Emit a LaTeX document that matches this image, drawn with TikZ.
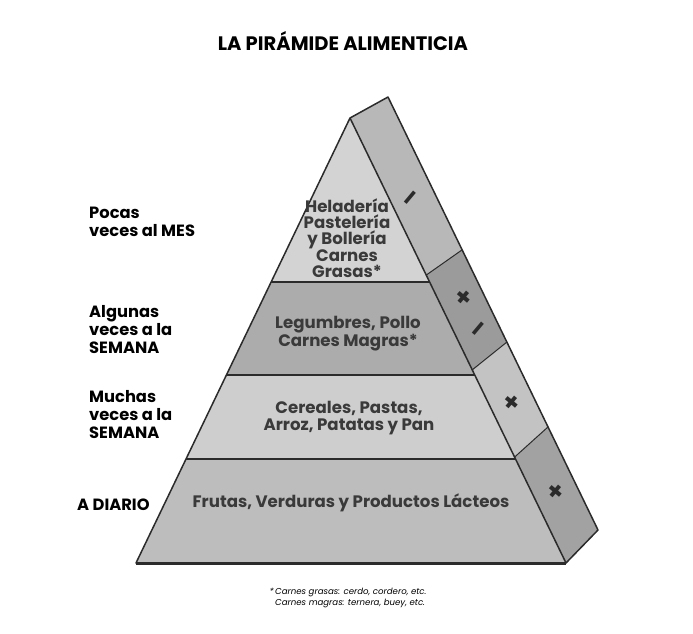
\documentclass[tikz,border=0pt]{standalone}
\usepackage{fontspec}
\setmainfont{Poppins}[BoldFont={Poppins Bold},ItalicFont={Poppins Italic}]
\usetikzlibrary{positioning,calc}
\definecolor{pyrline}{HTML}{2B2B2B}
\definecolor{foodtext}{HTML}{3A3A3A}
\definecolor{bandtop}{HTML}{D3D3D3}
\definecolor{bandtwo}{HTML}{ACACAC}
\definecolor{bandthree}{HTML}{CECECE}
\definecolor{bandbase}{HTML}{BDBDBD}
\definecolor{sidetop}{HTML}{B8B8B8}
\definecolor{sidetwo}{HTML}{9B9B9B}
\definecolor{sidethree}{HTML}{C3C3C3}
\definecolor{sidebase}{HTML}{A2A2A2}
\tikzset{
    outline/.style={draw=pyrline,line width=1.5pt,line join=round},
    freq/.style={font=\bfseries\fontsize{16.3}{18}\selectfont,align=left,anchor=west,inner sep=0pt},
    food/.style={font=\bfseries\fontsize{16.6}{16.3}\selectfont,align=center,text=foodtext,inner sep=0pt},
    sidesign/.style={font=\bfseries\fontsize{26}{26}\selectfont,text=pyrline,rotate=50,inner sep=0pt},
}

\begin{document}
\begin{tikzpicture}[x=1pt,y=-1pt]
    \useasboundingbox (0,0) rectangle (693,634);
    % corners of the pyramid
    \coordinate (apex) at (350,118);
    \coordinate (bl) at (136,563);
    \coordinate (br) at (566,563);
    \coordinate (bapex) at (388,97);
    \coordinate (bbr) at (598,530);
    % band lines on the front
    \foreach \t [count=\i] in {0.3685,0.5775,0.766}{
        \coordinate (l\i) at ($(apex)!\t!(bl)$);
        \coordinate (r\i) at ($(apex)!\t!(br)$);
    }
    % divisions on the side
    \foreach \t [count=\i] in {0.353,0.566,0.762}{
        \coordinate (sf\i) at ($(apex)!\t!(br)$);
        \coordinate (sb\i) at ($(bapex)!\t!(bbr)$);
    }
    \fill[bandtop] (apex) -- (l1) -- (r1) -- cycle;
    \fill[bandtwo] (l1) -- (l2) -- (r2) -- (r1) -- cycle;
    \fill[bandthree] (l2) -- (l3) -- (r3) -- (r2) -- cycle;
    \fill[bandbase] (l3) -- (bl) -- (br) -- (r3) -- cycle;
    \fill[sidetop] (apex) -- (sf1) -- (sb1) -- (bapex) -- cycle;
    \fill[sidetwo] (sf1) -- (sf2) -- (sb2) -- (sb1) -- cycle;
    \fill[sidethree] (sf2) -- (sf3) -- (sb3) -- (sb2) -- cycle;
    \fill[sidebase] (sf3) -- (br) -- (bbr) -- (sb3) -- cycle;
    \draw[outline] (apex) -- (bl) -- (br) -- cycle;
    \draw[outline] (apex) -- (bapex) -- (bbr) -- (br);
    \draw[outline] (l1) -- (r1) (l2) -- (r2) (l3) -- (r3);
    \draw[outline,line width=1pt] (sf1) -- (sb1) (sf2) -- (sb2) (sf3) -- (sb3);
    \draw[pyrline,line width=3pt] (bl) -- (br);

    \node[font=\bfseries\fontsize{19.5}{20}\selectfont] (title) at (343,41) {LA PIRÁMIDE ALIMENTICIA};

    \node[freq] (mes) at (89,222) {Pocas\\veces al MES};
    \node[freq] (algunas) at (89,330) {Algunas\\veces a la\\SEMANA};
    \node[freq] (muchas) at (89,415) {Muchas\\veces a la\\SEMANA};
    \node[freq] (diario) at (77,505) {A DIARIO};

    \node[food] (dulces) at (347,238) {Heladería\\Pastelería\\y Bollería\\Carnes\\Grasas*};
    \node[food] (legumbres) at (348,334) {Legumbres, Pollo\\Carnes Magras*};
    \node[food] (cereales) at (349,418) {Cereales, Pastas,\\Arroz, Patatas y Pan};
    \node[food] (frutas) at (351,503) {Frutas, Verduras y Productos Lácteos};

    \node[sidesign] (s1) at (413,200) {–};
    \node[sidesign] (s2) at (465,298) {+};
    \node[sidesign] (s3) at (481,331) {–};
    \node[sidesign] (s4) at (513,403) {+};
    \node[sidesign] (s5) at (557,492) {+};

    \node[font=\itshape\fontsize{8.6}{11}\selectfont,align=left,anchor=north west,inner sep=0pt] (nota) at (275,588) {\llap{*\,}Carnes grasas: cerdo, cordero, etc.\\Carnes magras: ternera, buey, etc.};
\end{tikzpicture}
\end{document}
